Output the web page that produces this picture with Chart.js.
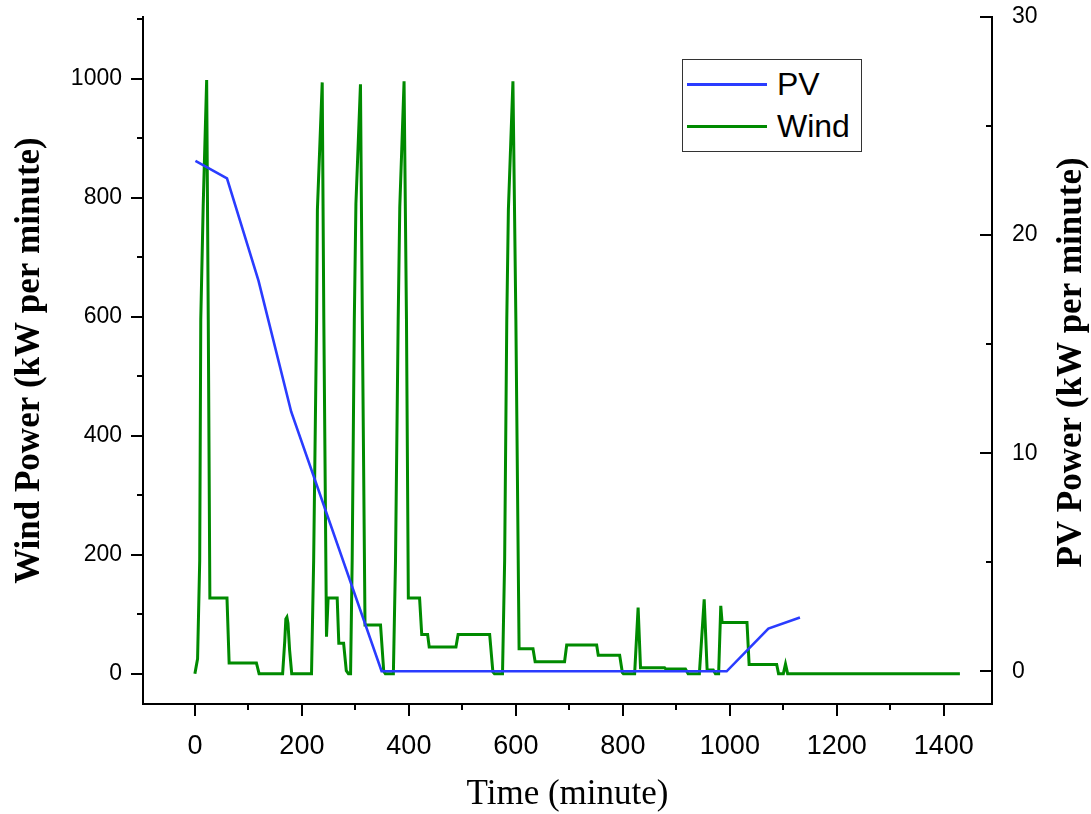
<!DOCTYPE html>
<html>
<head>
<meta charset="utf-8">
<script src="https://cdn.jsdelivr.net/npm/chart.js@4.4.1/dist/chart.umd.min.js"></script>
<style>
  body { margin: 0; background: #fff; }
  #contenedor { position: relative; width: 1091px; height: 814px; }
  #leyenda {
    position: absolute; left: 682px; top: 59px; width: 180px; height: 93px;
    border: 1px solid #333; box-sizing: border-box; background: #fff;
    font-family: "Liberation Sans", Arial, sans-serif; font-size: 32px; color: #000;
  }
  .fila { position: absolute; left: 4px; height: 40px; line-height: 40px; display: flex; align-items: center; }
  .linea { width: 80px; height: 3px; margin-right: 10px; }
</style>
</head>
<body>
<div id="contenedor">
  <canvas id="grafico" width="1091" height="814"></canvas>
  <div id="leyenda">
    <div class="fila" style="top:4px"><span class="linea" style="background:#2a3cff"></span>PV</div>
    <div class="fila" style="top:46px"><span class="linea" style="background:#008a00"></span>Wind</div>
  </div>
</div>
<script>
// Datos
const tiempoEolica = [0, 5, 9, 11, 15.5, 22, 25, 28, 60, 64, 115, 120, 164, 168, 170, 172, 174, 177, 181,
  218, 222, 227.5, 229, 238, 241, 246, 249, 266, 269, 278, 283, 287, 291, 294, 298, 301, 309.5, 313, 318,
  347, 353, 356, 371, 375, 380, 383, 391, 395.5, 399, 420, 424, 435, 438, 488, 492, 551, 557, 560,
  575, 579, 583, 586, 594.5, 600, 606, 632, 636, 691, 695, 751, 754, 794, 799, 801, 822, 828.5, 833,
  878, 880, 917, 922, 943, 952, 957.5, 969, 973, 979, 983, 985.5, 1032, 1036, 1087.5, 1091, 1100,
  1104, 1108, 1430];
const potenciaEolica = [0, 25, 190, 595, 786, 998, 595, 127, 127, 18, 18, 0, 0, 55, 92, 95, 85, 40, 0,
  0, 190, 595, 780, 994, 595, 62, 127, 127, 51, 51, 5, 0, 0, 190, 595, 790, 991, 595, 82,
  82, 4, 0, 0, 190, 595, 785, 996, 595, 127, 127, 66, 66, 45, 45, 66, 66, 3, 0,
  0, 190, 595, 780, 996, 595, 42, 42, 20, 20, 48, 48, 31, 31, 2, 0, 0, 111, 10,
  10, 8, 8, 0, 0, 125, 6, 6, 0, 0, 114, 86, 86, 15.5, 15.5, 0, 0,
  16, 0, 0];

const tiempoFV = [1, 60, 119, 180, 349, 994, 1072, 1131];
const potenciaFV = [23.4, 22.6, 17.9, 11.9, 0, 0, 1.96, 2.47];

const ticksTiempo = [0, 100, 200, 300, 400, 500, 600, 700, 800, 900, 1000, 1100, 1200, 1300, 1400];
const ticksEolica = [0, 100, 200, 300, 400, 500, 600, 700, 800, 900, 1000, 1100];
const ticksFV = [0, 5, 10, 15, 20, 25, 30];

const puntos = (xs, ys) => xs.map((x, i) => ({ x: x, y: ys[i] }));

// marcas de los ejes (mayores y menores) y título del eje derecho
const marcasEjes = {
  id: 'marcasEjes',
  afterDraw(chart) {
    const { ctx, chartArea: a, scales } = chart;
    ctx.save();
    ctx.strokeStyle = '#000';
    ctx.lineWidth = 2;
    ctx.beginPath();
    scales.x.ticks.forEach(t => {
      const px = Math.round(scales.x.getPixelForValue(t.value));
      const largo = t.value % 200 === 0 ? 12 : 6;
      ctx.moveTo(px, a.bottom); ctx.lineTo(px, a.bottom + largo);
    });
    scales.y.ticks.forEach(t => {
      const py = Math.round(scales.y.getPixelForValue(t.value));
      const largo = t.value % 200 === 0 ? 12 : 6;
      ctx.moveTo(a.left - largo, py); ctx.lineTo(a.left, py);
    });
    scales.y1.ticks.forEach(t => {
      const py = Math.round(scales.y1.getPixelForValue(t.value));
      const largo = t.value % 10 === 0 ? 12 : 6;
      ctx.moveTo(a.right - largo, py); ctx.lineTo(a.right, py);
    });
    ctx.stroke();

    ctx.fillStyle = '#000';
    ctx.font = 'bold 35px "Liberation Serif"';
    ctx.textAlign = 'center';
    ctx.textBaseline = 'middle';
    ctx.translate(1072, (a.top + a.bottom) / 2 + 2);
    ctx.rotate(-Math.PI / 2);
    ctx.fillText('PV Power (kW per minute)', 0, 0);
    ctx.restore();
  }
};

const fuenteTicks = { family: '"Liberation Sans", Arial, sans-serif', size: 23 };
const sinRelleno = s => { s.paddingTop = 0; s.paddingBottom = 0; s.paddingLeft = 0; s.paddingRight = 0; };

new Chart(document.getElementById('grafico'), {
  type: 'line',
  data: {
    datasets: [
      {
        label: 'PV',
        data: puntos(tiempoFV, potenciaFV),
        yAxisID: 'y1',
        borderColor: '#2a3cff',
        borderWidth: 2.6,
        pointRadius: 0,
        tension: 0
      },
      {
        label: 'Wind',
        data: puntos(tiempoEolica, potenciaEolica),
        yAxisID: 'y',
        borderColor: '#008a00',
        borderWidth: 3,
        pointRadius: 0,
        tension: 0
      }
    ]
  },
  options: {
    responsive: false,
    animation: false,
    layout: { padding: { top: 17, right: 0, left: 0, bottom: 0 } },
    plugins: { legend: { display: false }, tooltip: { enabled: false } },
    scales: {
      x: {
        type: 'linear',
        position: 'bottom',
        min: -97,
        max: 1490,
        afterBuildTicks: s => { s.ticks = ticksTiempo.map(v => ({ value: v })); },
        afterFit: s => { s.height = 110; sinRelleno(s); },
        grid: { display: false },
        border: { display: true, color: '#000', width: 2 },
        ticks: {
          autoSkip: false,
          maxRotation: 0,
          padding: 18,
          color: '#000',
          font: { family: '"Liberation Sans", Arial, sans-serif', size: 27 },
          callback: v => (v % 200 === 0 ? v : '')
        },
        title: {
          display: true,
          text: 'Time (minute)',
          color: '#000',
          font: { family: '"Liberation Serif", serif', size: 35 },
          padding: { top: 0, bottom: -2 }
        }
      },
      y: {
        type: 'linear',
        position: 'left',
        min: -51,
        max: 1104,
        afterBuildTicks: s => { s.ticks = ticksEolica.map(v => ({ value: v })); },
        afterFit: s => { s.width = 143; sinRelleno(s); },
        grid: { display: false },
        border: { display: true, color: '#000', width: 2 },
        ticks: {
          autoSkip: false,
          padding: 13,
          color: '#000',
          font: fuenteTicks,
          callback: v => (v % 200 === 0 ? v : '')
        },
        title: {
          display: true,
          text: 'Wind Power (kW per minute)',
          color: '#000',
          font: { family: '"Liberation Serif", serif', size: 35, weight: 'bold' },
          padding: { top: 9, bottom: 0 }
        }
      },
      y1: {
        type: 'linear',
        position: 'right',
        min: -1.5,
        max: 30,
        afterBuildTicks: s => { s.ticks = ticksFV.map(v => ({ value: v })); },
        afterFit: s => { s.width = 99; sinRelleno(s); },
        grid: { display: false },
        border: { display: true, color: '#000', width: 2 },
        ticks: {
          autoSkip: false,
          padding: 12,
          color: '#000',
          font: fuenteTicks,
          callback: v => (v % 10 === 0 ? v : '')
        }
      }
    }
  },
  plugins: [marcasEjes]
});
</script>
</body>
</html>
